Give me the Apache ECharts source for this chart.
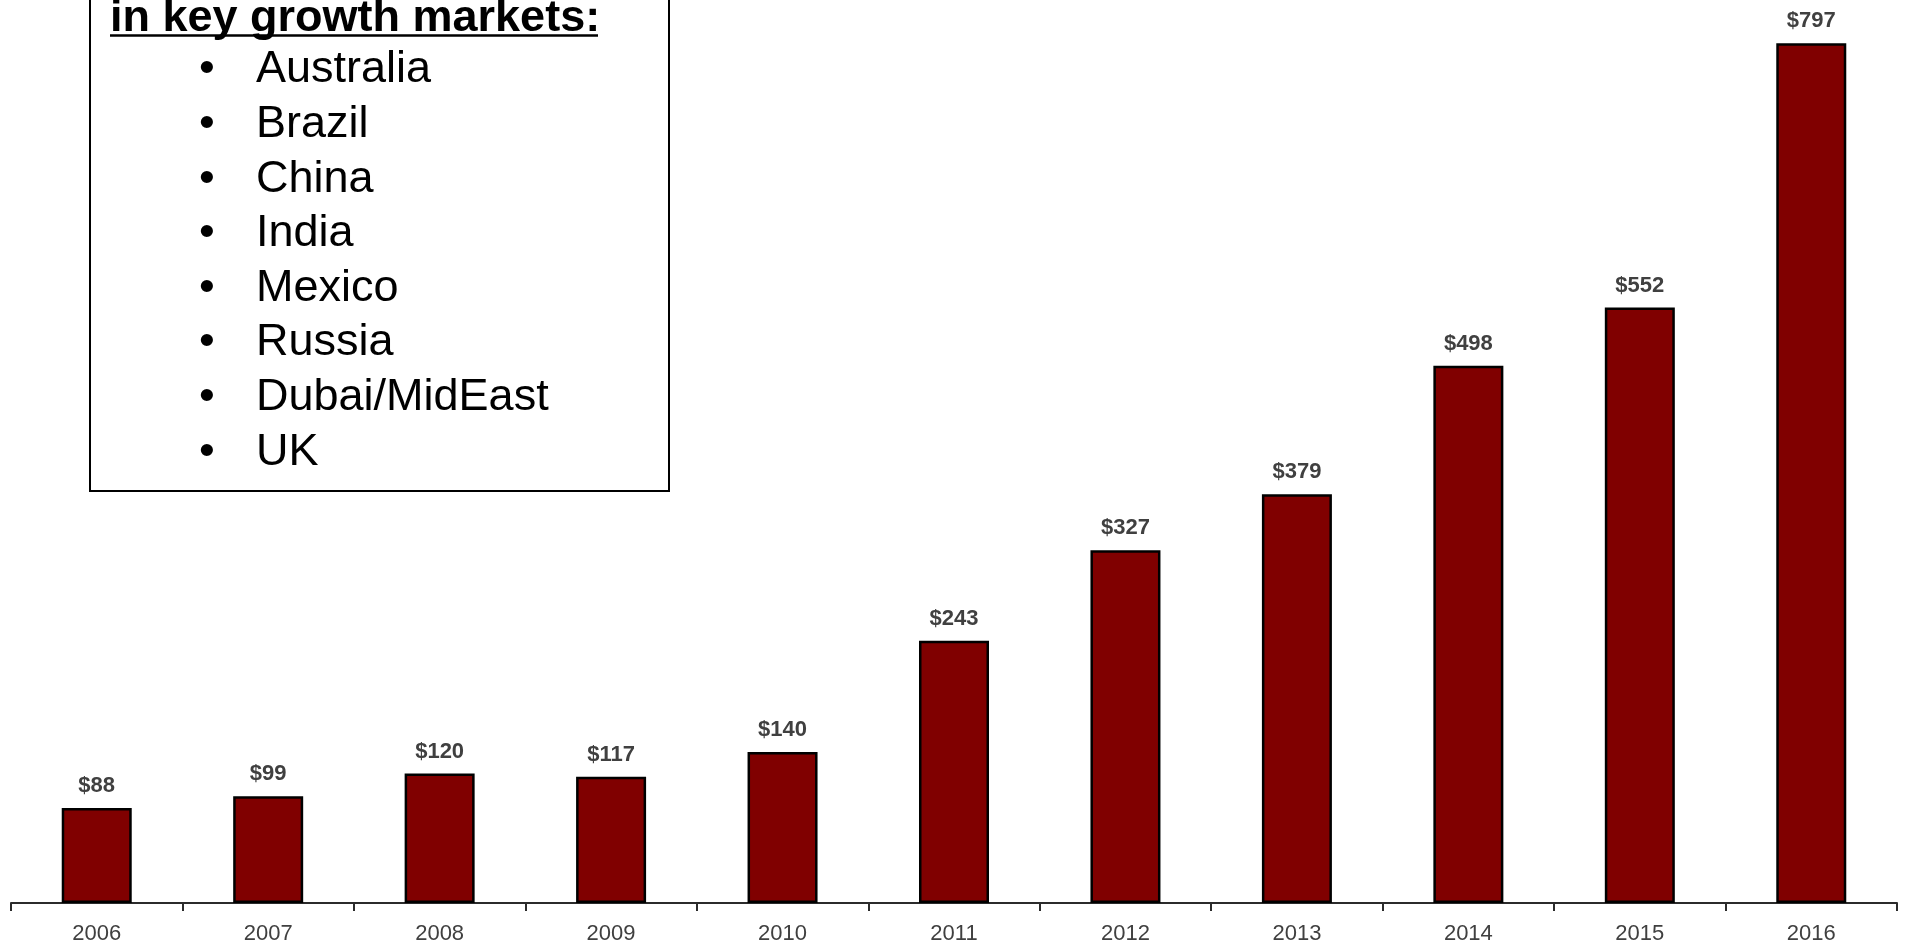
<!DOCTYPE html>
<html>
<head>
<meta charset="utf-8">
<title>Sales in key growth markets</title>
<script src="https://cdn.jsdelivr.net/npm/echarts@6/dist/echarts.min.js"></script>
<style>
  html, body { margin: 0; padding: 0; background: #ffffff; overflow: hidden; }
  #chart { width: 1907px; height: 945px; }
</style>
</head>
<body>
<div id="chart"></div>
<script>
// Yearly totals
const years = ['2006', '2007', '2008', '2009', '2010', '2011', '2012', '2013', '2014', '2015', '2016'];
const values = [88, 99, 120, 117, 140, 243, 327, 379, 498, 552, 797];

// Callout box contents
const calloutTitle = 'in key growth markets:';
const markets = ['Australia', 'Brazil', 'China', 'India', 'Mexico', 'Russia', 'Dubai/MidEast', 'UK'];

const FONT = '"Liberation Sans", Arial, sans-serif';

const chart = echarts.init(document.getElementById('chart'), null, { renderer: 'canvas' });

// Callout box: frame, underlined heading and bulleted market list
const graphics = [
  {
    type: 'rect',
    shape: { x: 90, y: -20, width: 579, height: 511 },
    style: { fill: '#ffffff', stroke: '#000000', lineWidth: 2 },
    z: 10
  },
  {
    type: 'text',
    x: 110, y: 19,
    style: {
      text: calloutTitle, fill: '#000000',
      font: 'bold 45px ' + FONT,
      textAlign: 'left', textVerticalAlign: 'middle'
    },
    z: 11
  },
  {
    type: 'line',
    shape: { x1: 110, y1: 35.5, x2: 598, y2: 35.5 },
    style: { stroke: '#000000', lineWidth: 2.5 },
    z: 11
  }
];
markets.forEach(function (name, i) {
  const cy = 70 + i * 54.6;
  graphics.push({
    type: 'text',
    x: 207, y: cy,
    style: { text: '•', fill: '#000000', font: '45px ' + FONT, textAlign: 'center', textVerticalAlign: 'middle' },
    z: 11
  });
  graphics.push({
    type: 'text',
    x: 256, y: cy,
    style: { text: name, fill: '#000000', font: '45px ' + FONT, textAlign: 'left', textVerticalAlign: 'middle' },
    z: 11
  });
});

chart.setOption({
  animation: false,
  backgroundColor: '#ffffff',
  grid: { left: 11, right: 10, top: 40, bottom: 37, containLabel: false },
  xAxis: {
    type: 'category',
    data: years,
    boundaryGap: true,
    axisLine: { show: true, lineStyle: { color: '#2b2b2b', width: 2 } },
    axisTick: { show: true, length: 8, inside: false, lineStyle: { color: '#2b2b2b', width: 2 } },
    axisLabel: { color: '#404040', fontSize: 22, fontFamily: FONT, margin: 20 }
  },
  yAxis: {
    type: 'value',
    min: 0,
    max: 800,
    show: false,
    splitLine: { show: false }
  },
  series: [{
    type: 'bar',
    data: values,
    barWidth: 70,
    itemStyle: { color: '#800000', borderColor: '#000000', borderWidth: 2.5 },
    label: {
      show: true,
      position: 'top',
      distance: 11,
      formatter: function (p) { return '$' + p.value; },
      color: '#404040',
      fontSize: 22,
      fontWeight: 'bold',
      fontFamily: FONT
    }
  }],
  graphic: graphics
});
</script>
</body>
</html>
